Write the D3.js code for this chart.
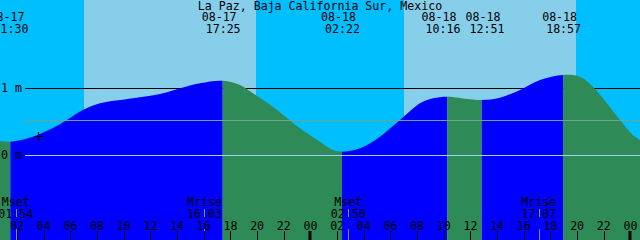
<!DOCTYPE html>
<html><head><meta charset="utf-8">
<script src="https://cdn.jsdelivr.net/npm/d3@7"></script>
<style>html,body{margin:0;padding:0;background:#fff;}svg{display:block;}</style>
</head><body>
<svg id="chart" width="640" height="240"></svg>
<script>
const title = "La Paz, Baja California Sur, Mexico";
const year = 2024;
const domainTimes = ["08-17 00:43", "08-19 00:43"];

// tide curve samples (time, metres)
const tideTimes = ["08-17 00:43","08-17 01:30","08-17 03:11","08-17 04:41","08-17 05:44","08-17 06:56","08-17 08:13","08-17 10:41","08-17 12:43","08-17 14:13","08-17 15:43","08-17 17:25","08-17 18:43","08-17 19:41","08-17 21:11","08-17 23:13","08-18 00:43","08-18 01:41","08-18 02:22","08-18 03:43","08-18 05:13","08-18 06:43","08-18 08:13","08-18 09:11","08-18 10:16","08-18 11:58","08-18 12:51","08-18 14:13","08-18 15:43","08-18 17:13","08-18 18:57","08-18 20:13","08-18 21:11","08-18 22:14","08-18 23:13","08-19 00:11","08-19 00:43"];
const tideLevels = [0.213,0.203,0.278,0.407,0.527,0.676,0.776,0.851,0.915,1.0,1.075,1.113,1.049,0.925,0.725,0.403,0.203,0.079,0.054,0.104,0.278,0.527,0.776,0.851,0.875,0.836,0.825,0.860,0.975,1.124,1.199,1.173,1.024,0.776,0.527,0.303,0.228];

// tide events
const eventTimes = ["08-17 01:30","08-17 17:25","08-18 02:22","08-18 10:16","08-18 12:51","08-18 18:57"];
const eventTypes = ["Low","High","Low","High","Low","High"];

// sun
const sunriseTimes = ["08-17 07:01","08-18 07:01"];
const sunsetTimes = ["08-17 19:55","08-18 19:55"];

// moon
const moonTimes = ["08-17 01:54","08-17 16:03","08-18 02:50","08-18 17:07"];
const moonNames = ["Mset","Mrise","Mset","Mrise"];

// levels
const gridLevels = [1, 0];
const gridLabels = ["1 m", "0 m"];
const meanLevel = 0.525;

// current-time marker
const nowTime = "08-17 03:35";
const nowLevel = 0.284;

const parse = s => { const [md, hm] = s.split(" "); const [mo, d] = md.split("-").map(Number); const [h, m] = hm.split(":").map(Number); return new Date(Date.UTC(year, mo - 1, d, h, m)); };

const W = 640, H = 240;
const svg = d3.select("#chart");
const x = d3.scaleUtc().domain(domainTimes.map(parse)).range([0, W]);
const y = d3.scaleLinear().domain([0, 1]).range([155.3, 88.3]);

const FONT = "'DejaVu Sans Mono', monospace";
const FS = 11.6;
const C = { night: "#00bfff", day: "#87ceeb", flood: "#0000ff", ebb: "#2e8b57", mean: "#6fa58e", datum: "#9fd0ff" };

// sky background
svg.append("rect").attr("x", 0).attr("y", 0).attr("width", W).attr("height", H).attr("fill", C.night);
sunriseTimes.forEach((sr, i) => {
  const x0 = x(parse(sr)), x1 = x(parse(sunsetTimes[i]));
  svg.append("rect").attr("x", x0).attr("y", 0).attr("width", x1 - x0).attr("height", H).attr("fill", C.day);
});

// 1 m grid line (behind water)
svg.append("line").attr("x1", 25).attr("x2", W).attr("y1", Math.round(y(gridLevels[0])) + 0.5).attr("y2", Math.round(y(gridLevels[0])) + 0.5)
  .attr("stroke", "#000").attr("stroke-width", 1);

// water
const tide = tideTimes.map((t, i) => ({ t: parse(t), v: tideLevels[i] }));
const area = d3.area().x(d => x(d.t)).y0(H).y1(d => y(d.v)).curve(d3.curveCatmullRom.alpha(0.5));
svg.append("clipPath").attr("id", "water").append("path").attr("d", area(tide));
const bounds = [x.domain()[0], ...eventTimes.map(parse), x.domain()[1]];
const g = svg.append("g").attr("clip-path", "url(#water)");
for (let i = 0; i < bounds.length - 1; i++) {
  // segment ending at a High is rising (flood); ending at a Low is falling (ebb)
  let rising;
  if (i < eventTypes.length) rising = eventTypes[i] === "High";
  else rising = eventTypes[eventTypes.length - 1] === "Low";
  const x0 = x(bounds[i]), x1 = x(bounds[i + 1]);
  g.append("rect").attr("x", x0).attr("y", 0).attr("width", x1 - x0).attr("height", H).attr("fill", rising ? C.flood : C.ebb);
}

// mean and datum lines
svg.append("line").attr("x1", 25).attr("x2", W).attr("y1", Math.round(y(meanLevel)) + 0.5).attr("y2", Math.round(y(meanLevel)) + 0.5)
  .attr("stroke", C.mean).attr("stroke-width", 1);
svg.append("line").attr("x1", 25).attr("x2", W).attr("y1", Math.round(y(gridLevels[1])) + 0.5).attr("y2", Math.round(y(gridLevels[1])) + 0.5)
  .attr("stroke", C.datum).attr("stroke-width", 1);

const text = (tx, ty, s, anchor) => svg.append("text").attr("x", tx).attr("y", ty).attr("text-anchor", anchor || "middle")
  .attr("font-family", FONT).attr("font-size", FS).attr("fill", "#000").text(s);

// level labels
gridLevels.forEach((lv, i) => text(1, y(lv) + 4, gridLabels[i], "start"));

// now marker
const nx = Math.round(x(parse(nowTime))) + 0.5, ny = Math.round(y(nowLevel)) + 0.5;
svg.append("path").attr("d", `M${nx - 4.5},${ny}H${nx + 4.5}M${nx},${ny - 4.5}V${ny + 4.5}`).attr("stroke", "#000").attr("stroke-width", 1.2);

// title
text(W / 2, 9.7, title);

// event labels with simple collision avoidance
const ev = eventTimes.map((t, i) => ({ t: parse(t), s: t, lx: x(parse(t)) }));
const minGap = 44;
for (let k = 0; k < 5; k++) {
  for (let i = 0; i < ev.length - 1; i++) {
    const d = ev[i + 1].lx - ev[i].lx;
    if (d < minGap) { const p = (minGap - d) / 2; ev[i].lx -= p; ev[i + 1].lx += p; }
  }
}
ev.forEach(e => {
  const [md, hm] = e.s.split(" ");
  text(e.lx - 3.5, 21, md);
  text(e.lx + 0.5, 33.2, hm);
});

// moon labels
moonTimes.forEach((t, i) => {
  const mx = x(parse(t));
  text(mx, 206.3, moonNames[i]);
  text(mx, 217.8, t.split(" ")[1]);
  const px = Math.round(mx) + 0.5;
  svg.append("path").attr("d", `M${px},209V217M${px},229V240`).attr("stroke", "#888").attr("stroke-width", 1);
});

// bottom hour axis
const ticks = d3.utcHour.every(2).range(x.domain()[0], x.domain()[1]);
const fmt = d3.utcFormat("%H");
ticks.forEach(t => {
  const tx = x(t);
  text(tx, 230, fmt(t));
  const midnight = t.getUTCHours() === 0;
  const px = midnight ? Math.round(tx) : Math.round(tx) + 0.5;
  svg.append("line").attr("x1", px).attr("x2", px).attr("y1", 231).attr("y2", H)
    .attr("stroke", "#000").attr("stroke-width", midnight ? 3 : 1);
});
</script>
</body></html>
